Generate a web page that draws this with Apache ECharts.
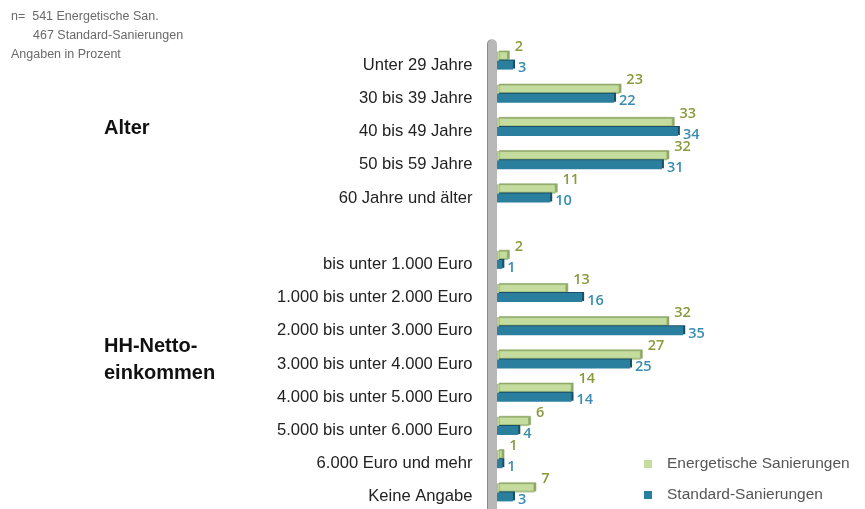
<!DOCTYPE html>
<html>
<head>
<meta charset="utf-8">
<script src="https://cdn.jsdelivr.net/npm/echarts@6/dist/echarts.min.js"></script>
<style>
  html, body { margin: 0; padding: 0; background: #fff; }
  #chart { width: 865px; height: 509px; }
</style>
</head>
<body>
<div id="chart"></div>
<script>
// Categories (an empty slot separates the age block from the income block)
const categories = [
  'Unter 29 Jahre', '30 bis 39 Jahre', '40 bis 49 Jahre', '50 bis 59 Jahre', '60 Jahre und älter',
  '',
  'bis unter 1.000 Euro', '1.000 bis unter 2.000 Euro', '2.000 bis unter 3.000 Euro',
  '3.000 bis unter 4.000 Euro', '4.000 bis unter 5.000 Euro', '5.000 bis unter 6.000 Euro',
  '6.000 Euro und mehr', 'Keine Angabe'
];
const seriesNames = ['Energetische Sanierungen', 'Standard-Sanierungen'];
const energetisch = [2, 23, 33, 32, 11, '-', 2, 13, 32, 27, 14, 6, 1, 7];
const standard    = [3, 22, 34, 31, 10, '-', 1, 16, 35, 25, 14, 4, 1, 3];
const noteLines = ['n=  541 Energetische San.', '467 Standard-Sanierungen', 'Angaben in Prozent'];
const groupLabels = ['Alter', 'HH-Netto-\neinkommen'];

const GREEN = '#c4dd9f', GREEN_DARK = '#8fa767', GREEN_TEXT = '#8a9a3c';
const BLUE = '#2a7f9e', BLUE_DARK = '#184f64', BLUE_TEXT = '#3a8db0';

const chart = echarts.init(document.getElementById('chart'));

chart.setOption({
  backgroundColor: '#ffffff',
  animation: false,
  // the grey wall sits on the category axis line; bars grow from 0 just right of it
  grid: { left: 492.5, right: 48.8, top: 44, bottom: 0, containLabel: false },
  xAxis: {
    type: 'value', min: -0.85, max: 60, show: false
  },
  yAxis: {
    type: 'category',
    data: categories,
    inverse: true,
    axisTick: { show: false },
    axisLine: {
      show: true,
      onZero: false,
      lineStyle: { color: '#b8b8b8', width: 9, shadowColor: '#8a8a8a', shadowOffsetX: -1, shadowBlur: 0 }
    },
    axisLabel: {
      margin: 20,
      color: '#222',
      fontFamily: '"Liberation Sans", Arial, sans-serif',
      fontSize: 16.6,
      verticalAlign: 'top',
      lineHeight: 9
    },
    splitLine: { show: false }
  },
  legend: {
    orient: 'vertical',
    left: 639,
    top: 451,
    icon: 'rect',
    itemWidth: 8,
    itemHeight: 8,
    itemGap: 15,
    itemStyle: { borderWidth: 0, shadowBlur: 0, shadowOffsetX: 0, shadowOffsetY: 0 },
    data: seriesNames,
    textStyle: {
      color: '#555',
      fontSize: 15.5,
      fontFamily: '"Liberation Sans", Arial, sans-serif',
      padding: [3, 0, 0, 10]
    }
  },
  series: [
    {
      name: seriesNames[0],
      type: 'bar',
      data: energetisch,
      barWidth: 9,
      barGap: '0%',
      itemStyle: {
        color: GREEN,
        borderColor: GREEN_DARK, borderWidth: 0.6,
        shadowColor: GREEN_DARK, shadowOffsetX: 2, shadowOffsetY: -1, shadowBlur: 0
      },
      label: {
        show: true, position: 'right', distance: 7, offset: [0, -9],
        color: GREEN_TEXT, fontSize: 14.5, fontWeight: 600,
        fontFamily: '"Open Sans", "Liberation Sans", sans-serif'
      }
    },
    {
      name: seriesNames[1],
      type: 'bar',
      data: standard,
      barWidth: 9,
      barGap: '0%',
      itemStyle: {
        color: BLUE,
        shadowColor: BLUE_DARK, shadowOffsetX: 2, shadowOffsetY: -1, shadowBlur: 0
      },
      label: {
        show: true, position: 'right', distance: 5, offset: [0, 3],
        color: BLUE_TEXT, fontSize: 14.5, fontWeight: 600,
        fontFamily: '"Open Sans", "Liberation Sans", sans-serif'
      }
    }
  ],
  graphic: [
    {
      type: 'text', left: 11, top: 10,
      style: { text: noteLines[0], fill: '#6a6a6a', font: '12.5px "Liberation Sans", Arial, sans-serif' }
    },
    {
      type: 'text', left: 33, top: 29,
      style: { text: noteLines[1], fill: '#6a6a6a', font: '12.5px "Liberation Sans", Arial, sans-serif' }
    },
    {
      type: 'text', left: 11, top: 48,
      style: { text: noteLines[2], fill: '#6a6a6a', font: '12.5px "Liberation Sans", Arial, sans-serif' }
    },
    {
      type: 'text', left: 104, top: 118,
      style: { text: groupLabels[0], fill: '#111', font: 'bold 20px "Liberation Sans", Arial, sans-serif' }
    },
    {
      type: 'text', left: 104, top: 333,
      style: { text: groupLabels[1], fill: '#111', font: 'bold 20px "Liberation Sans", Arial, sans-serif', lineHeight: 27 }
    }
  ]
});
</script>
</body>
</html>
